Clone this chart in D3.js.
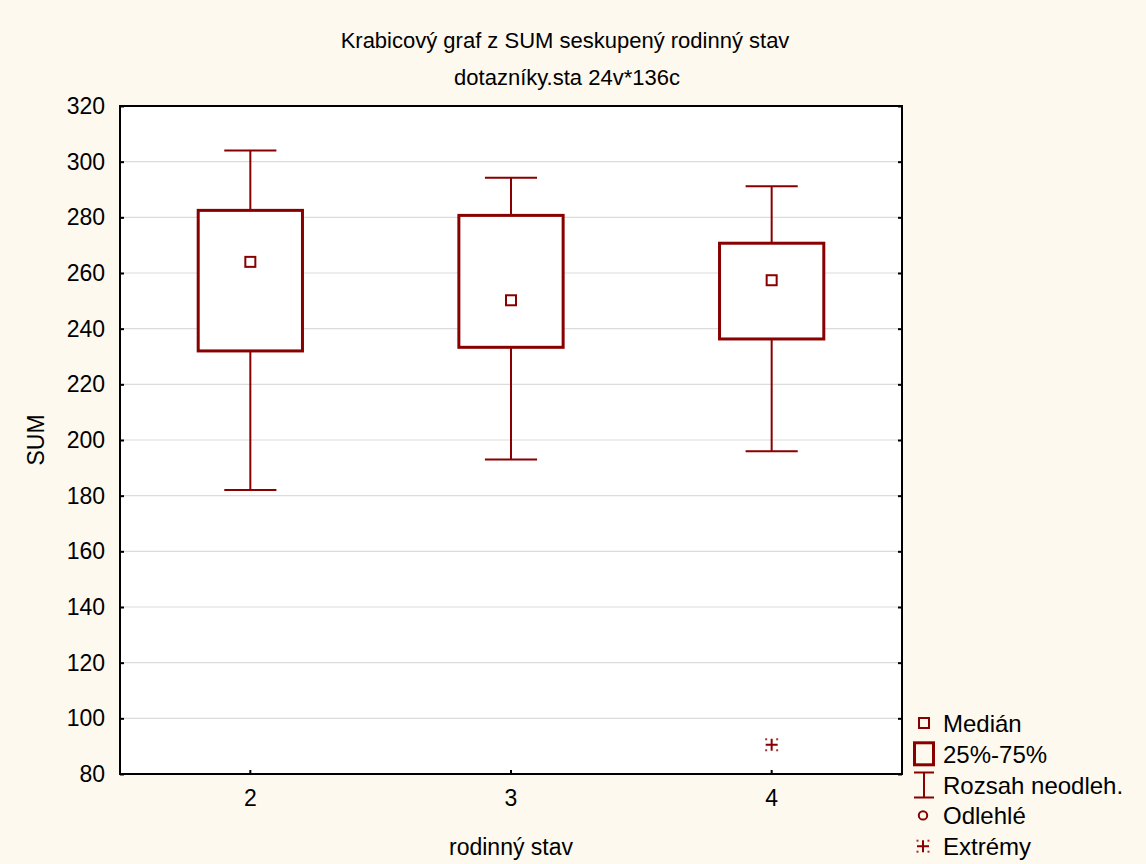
<!DOCTYPE html>
<html>
<head>
<meta charset="utf-8">
<script src="https://cdn.jsdelivr.net/npm/d3@7"></script>
<style>
  body { margin: 0; background: #fdf9ef; }
  text { font-family: "Liberation Sans", Arial, sans-serif; fill: #000; }
</style>
</head>
<body>
<div id="chart"></div>
<script>
// data
var categories = ["2", "3", "4"];
var whiskerLow = [182, 193, 196];
var q1 = [232, 233.3, 236.3];
var median = [264, 250.2, 257.4];
var q3 = [282.5, 280.7, 270.7];
var whiskerHigh = [304, 294.2, 291.2];
var extremeCats = ["4"];
var extremeValues = [90.5];
var legendLabels = ["Medián", "25%-75%", "Rozsah neodleh.", "Odlehlé", "Extrémy"];

var W = 1146, H = 864;
var pLeft = 120, pRight = 902, pTop = 106, pBottom = 774;
var red = "#880000";

var svg = d3.select("#chart").append("svg")
   .attr("width", W)
   .attr("height", H);

svg.append("rect").attr("width", W).attr("height", H).attr("fill", "#fdf9ef");

var x = d3.scaleBand().domain(categories).range([pLeft, pRight]);
var y = d3.scaleLinear().domain([80, 320]).range([pBottom, pTop]);
var bw = x.bandwidth();

//plot area
svg.append("rect")
   .attr("x", pLeft).attr("y", pTop)
   .attr("width", pRight - pLeft).attr("height", pBottom - pTop)
   .attr("fill", "#fff");

var yTicks = y.ticks(12);

//grid lines
svg.append("g").selectAll("line").data(yTicks.slice(1, -1)).enter().append("line")
   .attr("x1", pLeft).attr("x2", pRight)
   .attr("y1", function (d) {return y(d);})
   .attr("y2", function (d) {return y(d);})
   .attr("stroke", "#dcdcdc")
   .attr("stroke-width", 1.2);

//boxes
var rows = categories.map(function (c, i) {
  return {cat: c, lo: whiskerLow[i], q1: q1[i], med: median[i], q3: q3[i], hi: whiskerHigh[i]};
});

var g = svg.append("g").selectAll("g").data(rows).enter().append("g")
   .attr("transform", function (d) {return "translate(" + (x(d.cat) + bw / 2) + ",0)";});

g.append("line") //whisker line
   .attr("x1", 0).attr("x2", 0)
   .attr("y1", function (d) {return y(d.lo);})
   .attr("y2", function (d) {return y(d.hi);})
   .attr("stroke", red).attr("stroke-width", 2);
g.selectAll(".cap").data(function (d) {return [d.lo, d.hi];}).enter().append("line")
   .attr("class", "cap")
   .attr("x1", -bw * 0.1).attr("x2", bw * 0.1)
   .attr("y1", function (v) {return y(v);})
   .attr("y2", function (v) {return y(v);})
   .attr("stroke", red).attr("stroke-width", 2);
g.append("rect")
   .attr("x", -bw * 0.2)
   .attr("width", bw * 0.4)
   .attr("y", function (d) {return y(d.q3);})
   .attr("height", function (d) {return y(d.q1) - y(d.q3);})
   .attr("fill", "#fff")
   .attr("stroke", red).attr("stroke-width", 3);
g.append("rect") //median marker
   .attr("x", -5).attr("width", 10)
   .attr("y", function (d) {return y(d.med) - 5;})
   .attr("height", 10)
   .attr("fill", "#fff")
   .attr("stroke", red).attr("stroke-width", 2);

//asterisk symbol for extremes
function asterisk(sel, cx, cy) {
  sel.append("path")
     .attr("d", "M" + (cx - 6) + "," + cy + "H" + (cx + 6) + "M" + cx + "," + (cy - 6) + "V" + (cy + 6))
     .attr("stroke", red).attr("stroke-width", 2).attr("fill", "none");
  [[-1, -1], [1, -1], [-1, 1], [1, 1]].forEach(function (p) {
    sel.append("rect")
       .attr("x", cx + p[0] * 5.5 - 1).attr("y", cy + p[1] * 5.5 - 1)
       .attr("width", 2).attr("height", 2)
       .attr("fill", red).attr("opacity", 0.8);
  });
}
extremeValues.forEach(function (v, i) {
  asterisk(svg, x(extremeCats[i]) + bw / 2, y(v));
});

//frame + ticks
svg.append("rect")
   .attr("x", pLeft).attr("y", pTop)
   .attr("width", pRight - pLeft).attr("height", pBottom - pTop)
   .attr("fill", "none").attr("stroke", "#000").attr("stroke-width", 2);

var yAxis = svg.append("g").attr("transform", "translate(" + pLeft + ",0)")
   .call(d3.axisLeft(y).tickValues(yTicks).tickSize(-4).tickPadding(15));
yAxis.select(".domain").remove();
yAxis.selectAll("line").attr("stroke", "#000").attr("stroke-width", 2);
yAxis.selectAll("text").attr("font-size", "23px").attr("font-family", "Liberation Sans, Arial, sans-serif");

var yAxisR = svg.append("g").attr("transform", "translate(" + pRight + ",0)")
   .call(d3.axisRight(y).tickValues(yTicks).tickSize(-4).tickFormat(""));
yAxisR.select(".domain").remove();
yAxisR.selectAll("line").attr("stroke", "#000").attr("stroke-width", 2);

var xAxis = svg.append("g").attr("transform", "translate(0," + pBottom + ")")
   .call(d3.axisBottom(x).tickSize(-4).tickPadding(16));
xAxis.select(".domain").remove();
xAxis.selectAll("line").attr("stroke", "#000").attr("stroke-width", 2);
xAxis.selectAll("text").attr("font-size", "23px").attr("font-family", "Liberation Sans, Arial, sans-serif");

//titles
svg.append("text").attr("x", 565).attr("y", 48).attr("text-anchor", "middle")
   .attr("font-size", "22px").text("Krabicový graf z SUM seskupený rodinný stav");
svg.append("text").attr("x", 567).attr("y", 85).attr("text-anchor", "middle")
   .attr("font-size", "22px").text("dotazníky.sta 24v*136c");
svg.append("text").attr("x", (pLeft + pRight) / 2).attr("y", 855).attr("text-anchor", "middle")
   .attr("font-size", "23px").text("rodinný stav");
svg.append("text")
   .attr("transform", "translate(44," + ((pTop + pBottom) / 2) + ") rotate(-90)")
   .attr("text-anchor", "middle")
   .attr("font-size", "23px").text("SUM");

//legend
var lx = 924, ly0 = 723, lstep = 30.8;
var legend = svg.append("g");
legendLabels.forEach(function (t, i) {
  legend.append("text").attr("x", 943).attr("y", ly0 + i * lstep + 9)
     .attr("font-size", "24px").text(t);
});
legend.append("rect").attr("x", lx - 5).attr("y", ly0 - 5).attr("width", 10).attr("height", 10)
   .attr("fill", "none").attr("stroke", red).attr("stroke-width", 2);
legend.append("rect").attr("x", lx - 9.5).attr("y", ly0 + lstep - 11).attr("width", 19).attr("height", 22)
   .attr("fill", "none").attr("stroke", red).attr("stroke-width", 3);
var wy = ly0 + 2 * lstep;
legend.append("path")
   .attr("d", "M" + (lx - 10) + "," + (wy - 12) + "H" + (lx + 10) + "M" + lx + "," + (wy - 12) + "V" + (wy + 13) + "M" + (lx - 10) + "," + (wy + 13) + "H" + (lx + 10))
   .attr("stroke", red).attr("stroke-width", 2).attr("fill", "none");
legend.append("circle").attr("cx", lx - 1).attr("cy", ly0 + 3 * lstep).attr("r", 4.2)
   .attr("fill", "none").attr("stroke", red).attr("stroke-width", 2);
asterisk(legend, lx - 1, ly0 + 4 * lstep);
</script>
</body>
</html>
